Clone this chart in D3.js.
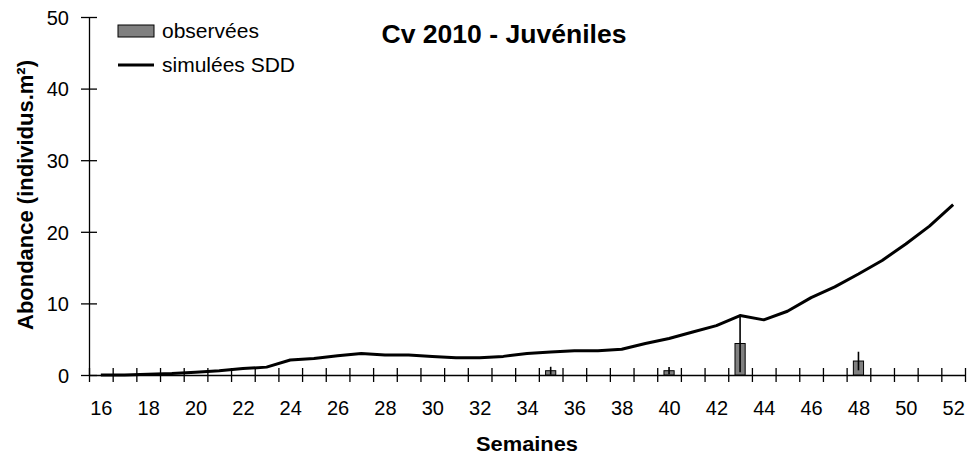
<!DOCTYPE html>
<html>
<head>
<meta charset="utf-8">
<script src="https://cdn.jsdelivr.net/npm/d3@7"></script>
<style>
  html, body { margin: 0; padding: 0; background: #fff; }
  svg { display: block; font-family: Arial, "Liberation Sans", sans-serif; }
</style>
</head>
<body>
<svg id="chart" width="970" height="461"></svg>
<script>
// Weeks of the season
const weeks = d3.range(16, 53);

// Simulated abundance (SDD model), one value per week
const simulated = [
  0, 0, 0.1, 0.2, 0.4, 0.6, 0.9, 1.1, 2.1, 2.3,
  2.7, 3.0, 2.8, 2.8, 2.6, 2.4, 2.4, 2.6, 3.0, 3.2,
  3.4, 3.4, 3.6, 4.4, 5.1, 6.0, 6.9, 8.3, 7.7, 8.9,
  10.8, 12.3, 14.1, 16.0, 18.3, 20.8, 23.8
];

// Observed abundance (sampled weeks) with standard deviations
const obsWeeks = [35, 40, 43, 48];
const obsValues = [0.6, 0.6, 4.4, 1.95];
const obsErrors = [0.55, 0.5, 4.0, 1.3];

const yTicks = [0, 10, 20, 30, 40, 50];
const xLabelWeeks = d3.range(16, 53, 2);

const svg = d3.select("#chart");

const x = d3.scaleLinear().domain([15.5, 52.5]).range([89, 965]);
const y = d3.scaleLinear().domain([0, 50]).range([375, 17]);
const step = x(1) - x(0);
const barW = step * 0.43;

// Y axis
const yAxis = svg.append("g")
  .attr("transform", `translate(${x(15.5)},0)`)
  .call(d3.axisLeft(y).tickValues(yTicks).tickSize(0).tickFormat(d3.format("d")));
yAxis.select(".domain").attr("stroke", "#000").attr("stroke-width", 1.3);
yAxis.selectAll(".tick line").attr("x1", -8).attr("x2", 8).attr("stroke", "#000").attr("stroke-width", 1.3);
yAxis.selectAll(".tick text")
  .attr("x", -20).attr("dy", "0.36em")
  .attr("font-size", 20).attr("fill", "#000")
  .attr("font-family", "Arial, 'Liberation Sans', sans-serif");

// X axis: boundary ticks between weeks
const boundaries = d3.range(15.5, 53, 1);
const xTicks = svg.append("g")
  .attr("transform", `translate(0,${y(0)})`)
  .call(d3.axisBottom(x).tickValues(boundaries).tickSize(0).tickFormat(""));
xTicks.select(".domain").attr("stroke", "#000").attr("stroke-width", 1.3);
xTicks.selectAll(".tick line").attr("y1", -7).attr("y2", 7).attr("stroke", "#000").attr("stroke-width", 1.3);

// X axis labels at week centres
const xLabels = svg.append("g")
  .attr("transform", `translate(0,${y(0)})`)
  .call(d3.axisBottom(x).tickValues(xLabelWeeks).tickSize(0).tickFormat(d3.format("d")));
xLabels.select(".domain").remove();
xLabels.selectAll(".tick text")
  .attr("y", 40).attr("dy", 0)
  .attr("font-size", 20).attr("fill", "#000")
  .attr("font-family", "Arial, 'Liberation Sans', sans-serif");

// Observed bars
const obs = obsWeeks.map((w, i) => ({ w, v: obsValues[i], e: obsErrors[i] }));
svg.append("g").selectAll("rect").data(obs).join("rect")
  .attr("x", d => x(d.w) - barW / 2)
  .attr("y", d => y(d.v))
  .attr("width", barW)
  .attr("height", d => y(0) - y(d.v))
  .attr("fill", "#808080")
  .attr("stroke", "#000")
  .attr("stroke-width", 1);

// Error bars
svg.append("g").selectAll("line").data(obs).join("line")
  .attr("x1", d => x(d.w)).attr("x2", d => x(d.w))
  .attr("y1", d => y(Math.max(0, d.v - d.e)))
  .attr("y2", d => y(d.v + d.e))
  .attr("stroke", "#000").attr("stroke-width", 1.6);

// Simulated line
const line = d3.line().x((d, i) => x(weeks[i])).y(d => y(d));
svg.append("path")
  .datum(simulated)
  .attr("d", line)
  .attr("fill", "none")
  .attr("stroke", "#000")
  .attr("stroke-width", 3)
  .attr("stroke-linejoin", "round");

// Title
svg.append("text")
  .attr("x", 504).attr("y", 43)
  .attr("text-anchor", "middle")
  .attr("font-size", 25).attr("font-weight", "bold")
  .attr("textLength", 245).attr("lengthAdjust", "spacingAndGlyphs")
  .text("Cv 2010 - Juvéniles");

// Axis titles
svg.append("text")
  .attr("x", (x.range()[0] + x.range()[1]) / 2).attr("y", 451)
  .attr("text-anchor", "middle")
  .attr("font-size", 21).attr("font-weight", "bold")
  .attr("textLength", 102).attr("lengthAdjust", "spacingAndGlyphs")
  .text("Semaines");

svg.append("text")
  .attr("transform", `translate(33,195) rotate(-90)`)
  .attr("text-anchor", "middle")
  .attr("font-size", 22).attr("font-weight", "bold")
  .attr("textLength", 270).attr("lengthAdjust", "spacingAndGlyphs")
  .text("Abondance (individus.m²)");

// Legend
const legend = svg.append("g");
legend.append("rect")
  .attr("x", 118).attr("y", 25).attr("width", 36).attr("height", 12)
  .attr("fill", "#808080").attr("stroke", "#000").attr("stroke-width", 1);
legend.append("text")
  .attr("x", 162).attr("y", 38).attr("font-size", 21)
  .text("observées");
legend.append("line")
  .attr("x1", 118).attr("x2", 154).attr("y1", 65).attr("y2", 65)
  .attr("stroke", "#000").attr("stroke-width", 3);
legend.append("text")
  .attr("x", 162).attr("y", 72).attr("font-size", 21)
  .text("simulées SDD");
</script>
</body>
</html>
